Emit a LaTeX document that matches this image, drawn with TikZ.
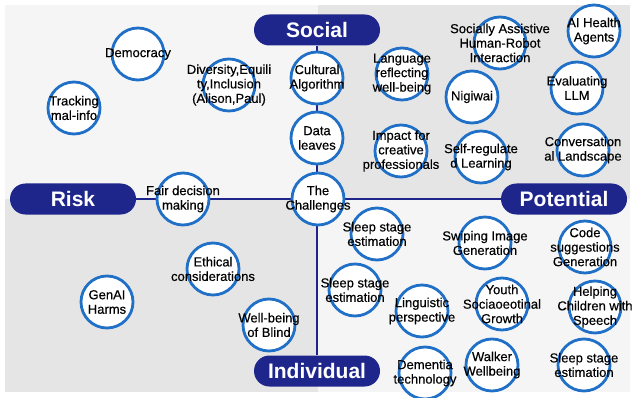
\documentclass[tikz,border=0pt]{standalone}
\usepackage{fontspec}
\setmainfont{Liberation Sans}
\newfontfamily\topicfont[FakeBold=0.4]{Liberation Sans}
\pgfdeclarelayer{back}
\pgfdeclarelayer{links}
\pgfsetlayers{back,links,main}
\definecolor{navy}{RGB}{30,38,140}
\definecolor{ring}{RGB}{32,112,200}
\definecolor{paneldark}{RGB}{229,229,229}
\definecolor{panellight}{RGB}{245,245,245}
\tikzset{
	pill/.style={fill=navy, rounded corners=15.5pt, minimum width=126pt,
		minimum height=31pt, inner sep=0pt, text=white,
		font=\fontsize{21}{21}\selectfont\bfseries},
	topic/.style={circle, draw=ring, line width=2.8pt, fill=white,
		minimum size=52pt, inner sep=0pt},
	topictext/.style={align=center, inner sep=0pt,
		font=\topicfont\fontsize{13}{14.5}\selectfont},
	axis/.style={draw=navy, line width=2.2pt}
}
\newcommand{\topicnode}[4]{%
	\node[topic] (#1) at (#2,#3) {};
	\node[topictext] (#1-t) at (#1) {#4};
}
\begin{document}
\begin{tikzpicture}[x=1pt, y=-1pt]
\useasboundingbox (0,0) rectangle (634,398);

% quadrants
\begin{pgfonlayer}{back}
\fill[panellight] (5,5) rectangle (318,199);
\fill[paneldark] (318,5) rectangle (630,199);
\fill[paneldark] (5,199) rectangle (318,392);
\fill[panellight] (318,199) rectangle (630,392);
\end{pgfonlayer}

% the four directions
\node[pill] (social) at (317,30) {Social};
\node[pill] (risk) at (73,199) {Risk};
\node[pill] (potential) at (564,199) {Potential};
\node[pill] (individual) at (317,371) {Individual};

\begin{pgfonlayer}{links}
\draw[axis] (social) -- (individual);
\draw[axis] (risk) -- (potential);
\end{pgfonlayer}

% social side
\topicnode{democ}{138}{54}{Democracy}
\topicnode{malinfo}{74}{108}{Tracking\\mal-info}
\topicnode{divers}{229}{85}{Diversity,Equili\\ty,Inclusion\\(Alison,Paul)}
\topicnode{cultural}{317}{78}{Cultural\\Algorithm}
\topicnode{dataleaves}{317}{138}{Data\\leaves}
\topicnode{challenges}{318}{199}{The\\Challenges}
\topicnode{language}{402}{74}{Language\\reflecting\\well-being}
\topicnode{sar}{500}{43}{Socially Assistive\\Human-Robot\\Interaction}
\topicnode{aihealth}{594}{31}{AI Health\\Agents}
\topicnode{nigiwai}{472}{97}{Nigiwai}
\topicnode{evalllm}{577}{88}{Evaluating\\LLM}
\topicnode{impact}{401}{151}{Impact for\\creative\\professionals}
\topicnode{selfreg}{481}{157}{Self-regulate\\d Learning}
\topicnode{convers}{583}{150}{Conversation\\al Landscape}

% individual side
\topicnode{fairdec}{183}{199}{Fair decision\\making}
\topicnode{ethical}{213}{269}{Ethical\\considerations}
\topicnode{genai}{107}{302}{GenAI\\Harms}
\topicnode{blind}{269}{325}{Well-being\\of Blind}
\topicnode{sleepA}{377}{234}{Sleep stage\\estimation}
\topicnode{sleepB}{355}{290}{Sleep stage\\estimation}
\topicnode{swiping}{485}{243}{Swiping Image\\Generation}
\topicnode{code}{585}{247}{Code\\suggestions\\Generation}
\topicnode{linguistic}{422}{311}{Linguistic\\perspective}
\topicnode{youth}{502}{304}{Youth\\Sociaoeotinal\\Growth}
\topicnode{helping}{595}{307}{Helping\\Children with\\Speech}
\topicnode{dementia}{425}{373}{Dementia\\technology}
\topicnode{walker}{492}{365}{Walker\\Wellbeing}
\topicnode{sleepC}{584}{365}{Sleep stage\\estimation}
\end{tikzpicture}
\end{document}
